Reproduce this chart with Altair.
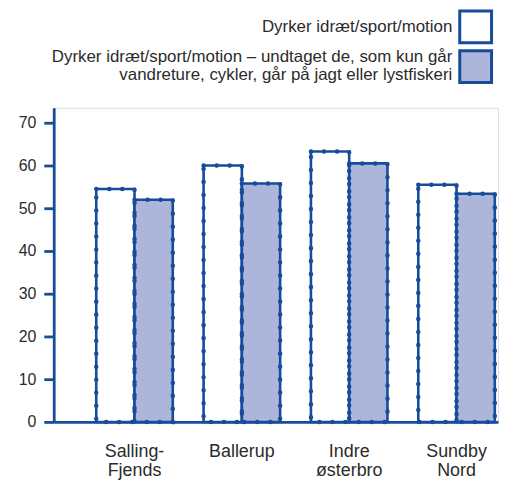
import altair as alt
import pandas as pd

areas = ["Salling-Fjends", "Ballerup", "Indre østerbro", "Sundby Nord"]
series_names = [
    "Dyrker idræt/sport/motion",
    "Dyrker idræt/sport/motion – undtaget de, som kun går vandreture, cykler, går på jagt eller lystfiskeri",
]
legend_line1 = "Dyrker idræt/sport/motion – undtaget de, som kun går"
legend_line2 = "vandreture, cykler, går på jagt eller lystfiskeri"
all_sport = [54.5, 60.0, 63.3, 55.5]
excl_walk = [52.0, 55.8, 60.5, 53.4]
y_ticks = [0, 10, 20, 30, 40, 50, 60, 70]
fill_colors = ["#ffffff", "#adb5da"]
STROKE = "#174c9b"
TEXT = "#2b2b2b"
FONT = "Liberation Sans"

rows = []
for i, a in enumerate(areas):
    rows.append({"area": a, "series": series_names[0], "value": all_sport[i]})
    rows.append({"area": a, "series": series_names[1], "value": excl_walk[i]})
df = pd.DataFrame(rows)

legend_expr = (
    f"datum.label == '{series_names[1]}' ? ['{legend_line1}', '{legend_line2}'] : datum.label"
)

x_enc = alt.X(
    "area:N",
    sort=areas,
    scale=alt.Scale(paddingInner=0.287, paddingOuter=0.213, align=0.93),
    axis=alt.Axis(
        title=None,
        labelAngle=0,
        ticks=False,
        tickSize=0,
        labelExpr="split(replace(datum.label, '-', '- '), ' ')",
        labelFontSize=18,
        labelLineHeight=19,
        labelPadding=21,
        labelColor=TEXT,
        labelFont=FONT,
        domainColor=STROKE,
        domainWidth=2.8,
    ),
)
xoff_enc = alt.XOffset("series:N", sort=series_names, scale=alt.Scale(paddingInner=0, paddingOuter=0))
y_enc = alt.Y(
    "value:Q",
    scale=alt.Scale(domain=[0, 73.5], nice=False),
    axis=alt.Axis(
        values=y_ticks,
        title=None,
        grid=False,
        tickSize=10,
        tickWidth=2.8,
        tickColor=STROKE,
        domainColor=STROKE,
        domainWidth=2.8,
        labelFontSize=16,
        labelColor=TEXT,
        labelFont=FONT,
        labelPadding=8,
    ),
)

bars = alt.Chart(df).mark_bar(stroke=STROKE, strokeWidth=2.6).encode(
    x=x_enc,
    xOffset=xoff_enc,
    y=y_enc,
    fill=alt.Fill(
        "series:N",
        sort=series_names,
        scale=alt.Scale(domain=series_names, range=fill_colors),
        legend=alt.Legend(
            title=None,
            orient="none",
            legendX=407,
            legendY=-99,
            symbolType="square",
            symbolSize=1024,
            symbolStrokeWidth=3,
            symbolStrokeColor=STROKE,
            labelAlign="right",
            labelBaseline={"expr": "datum.index == 1 ? 'line-bottom' : 'middle'"},
            labelOffset={"expr": "-41"},
            labelFontSize=17,
            labelColor=TEXT,
            labelFont=FONT,
            labelLimit=1000,
            labelExpr=legend_expr,
            rowPadding={"expr": "-6"},
        ),
    ),
)

beads = alt.Chart(df).mark_bar(
    filled=False, stroke=STROKE, strokeWidth=4.5, strokeDash=[0.1, 13], strokeCap="round"
).encode(x=alt.X("area:N", sort=areas), xOffset=alt.XOffset("series:N", sort=series_names), y="value:Q")

chart = (
    alt.layer(bars, beads)
    .properties(width=447, height=316, padding={"left": 10, "top": 0, "right": 2, "bottom": 2})
    .configure_view(stroke=None)
    .configure(background="white")
)

chart.save("out.html", embed_options={"renderer": "svg", "actions": False})
